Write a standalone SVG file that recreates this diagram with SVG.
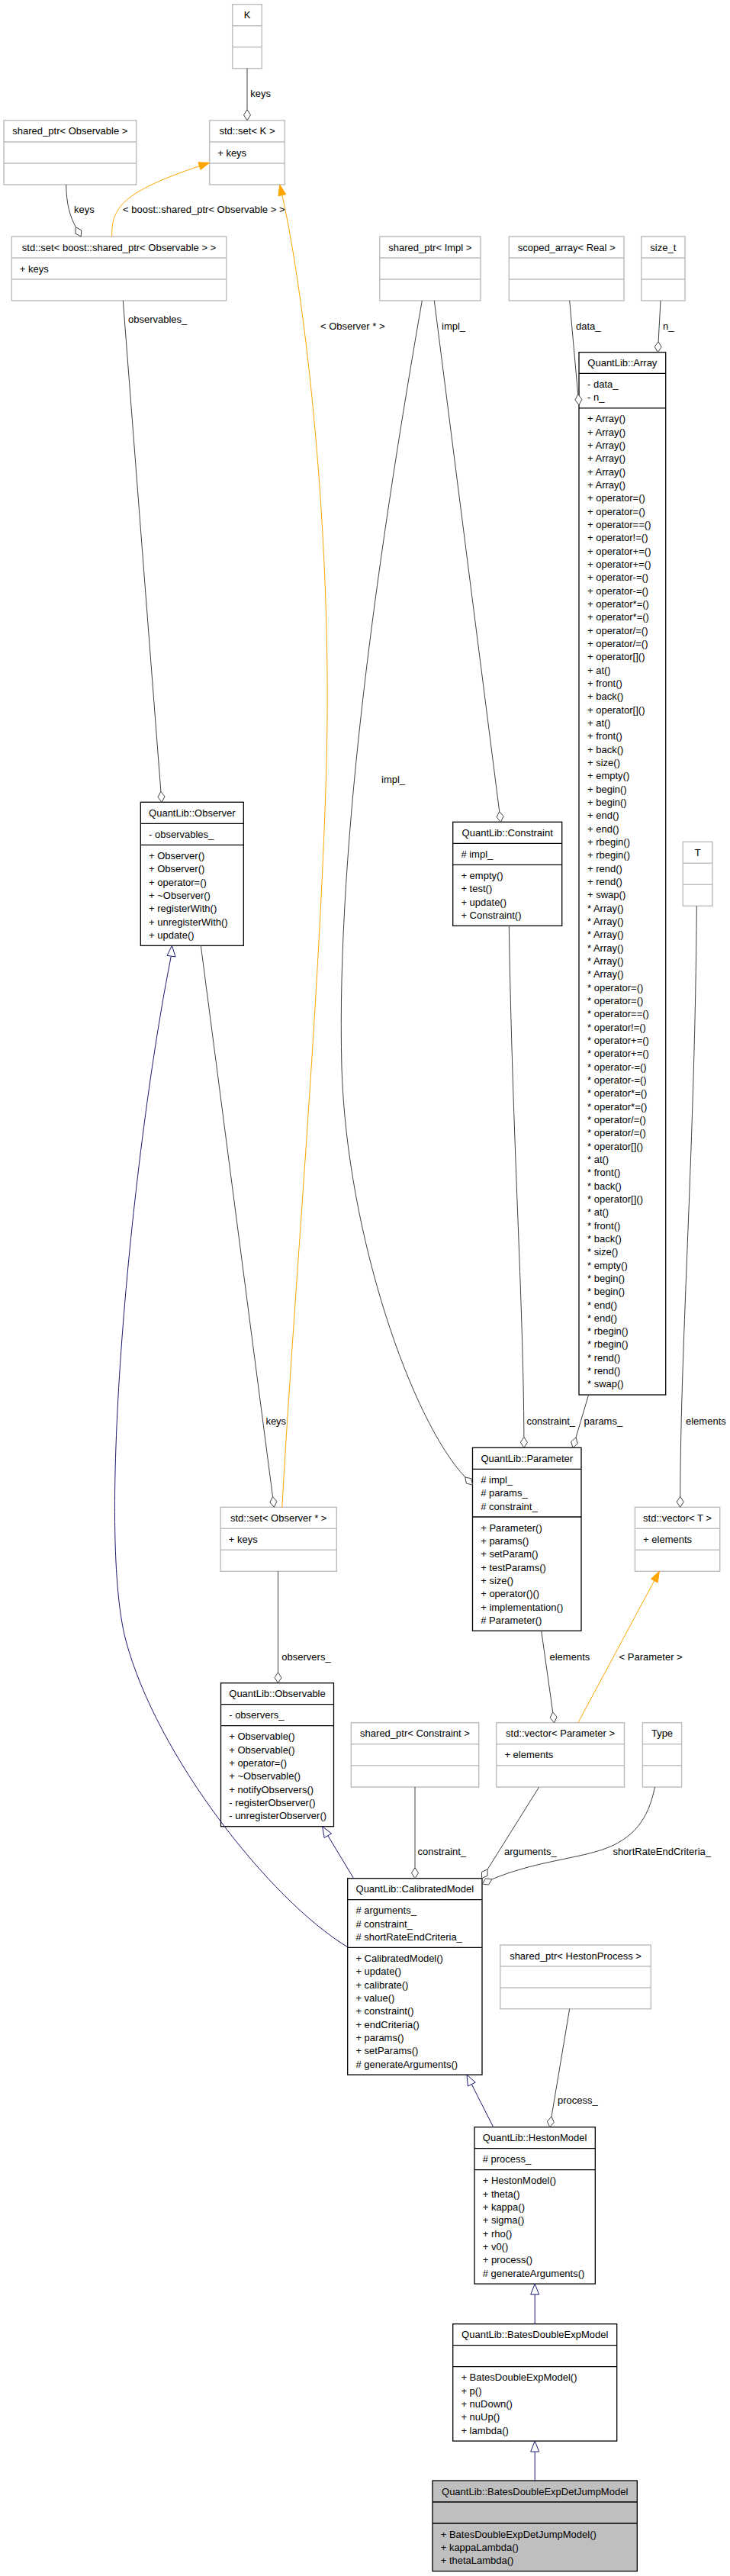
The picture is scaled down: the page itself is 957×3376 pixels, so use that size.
<svg xmlns="http://www.w3.org/2000/svg" width="957" height="3376" viewBox="0 0 957 3376">
<style>
text{font-family:"Liberation Sans",Arial,Helvetica,sans-serif;font-size:13px;fill:#000}
.c{text-anchor:middle}
.bk{fill:#fff;stroke:#000;stroke-width:1.3}
.gr{fill:#fff;stroke:#bfbfbf;stroke-width:1.5}
.sel{fill:#bfbfbf;stroke:#000;stroke-width:1.3}
.dk{fill:none;stroke:#000;stroke-width:1.3}
.dg{fill:none;stroke:#bfbfbf;stroke-width:1.5}
.ag{fill:none;stroke:#404040;stroke-width:1}
.dm{fill:#fff;stroke:#404040;stroke-width:1}
.in{fill:none;stroke:#191970;stroke-width:1}
.tr{fill:#fff;stroke:#191970;stroke-width:1}
.tp{fill:none;stroke:#ffa500;stroke-width:1}
.ah{fill:#ffa500;stroke:#ffa500;stroke-width:1}
</style>
<rect x="0" y="0" width="957" height="3376" fill="#fff"/>

<g id="node-K"><rect class="gr" x="304.7" y="5.7" width="38.6" height="84"/><path class="dg" d="M304.7,33.7H343.3M304.7,61.7H343.3"/><text class="c" x="324" y="24.3">K</text></g>

<g id="node-setK"><rect class="gr" x="274.7" y="157.7" width="98.6" height="84.3"/><path class="dg" d="M274.7,186H373.3M274.7,214H373.3"/><text class="c" x="324" y="176.3">std::set&lt; K &gt;</text><text x="285.2" y="204.6">+ keys</text></g>

<g id="node-sharedptrObservable"><rect class="gr" x="5" y="157.7" width="173.7" height="84.3"/><path class="dg" d="M5,186H178.7M5,214H178.7"/><text class="c" x="91.85" y="176.3">shared_ptr&lt; Observable &gt;</text></g>

<g id="node-setSharedObservable"><rect class="gr" x="15.3" y="310" width="281.4" height="84"/><path class="dg" d="M15.3,338H296.7M15.3,366H296.7"/><text class="c" x="156" y="328.6">std::set&lt; boost::shared_ptr&lt; Observable &gt; &gt;</text><text x="25.8" y="356.6">+ keys</text></g>

<g id="node-sharedptrImpl"><rect class="gr" x="497.7" y="310" width="132.3" height="84"/><path class="dg" d="M497.7,338H630M497.7,366H630"/><text class="c" x="563.85" y="328.6">shared_ptr&lt; Impl &gt;</text></g>

<g id="node-scopedArray"><rect class="gr" x="667.3" y="310" width="150.7" height="84"/><path class="dg" d="M667.3,338H818M667.3,366H818"/><text class="c" x="742.65" y="328.6">scoped_array&lt; Real &gt;</text></g>

<g id="node-sizet"><rect class="gr" x="840.7" y="310" width="57.3" height="84"/><path class="dg" d="M840.7,338H898M840.7,366H898"/><text class="c" x="869.35" y="328.6">size_t</text></g>

<g id="node-Array"><rect class="bk" x="759" y="461.7" width="113.7" height="1366.3"/><path class="dk" d="M759,489.4H872.7M759,534.8H872.7"/><text class="c" x="815.85" y="480.3">QuantLib::Array</text>
<text x="770" y="508"><tspan x="770" dy="0">- data_</tspan><tspan x="770" dy="17.33">- n_</tspan></text>
<text x="770" y="553.4"><tspan x="770" dy="0">+ Array()</tspan><tspan x="770" dy="17.33">+ Array()</tspan><tspan x="770" dy="17.33">+ Array()</tspan><tspan x="770" dy="17.33">+ Array()</tspan><tspan x="770" dy="17.33">+ Array()</tspan><tspan x="770" dy="17.33">+ Array()</tspan><tspan x="770" dy="17.33">+ operator=()</tspan><tspan x="770" dy="17.33">+ operator=()</tspan><tspan x="770" dy="17.33">+ operator==()</tspan><tspan x="770" dy="17.33">+ operator!=()</tspan><tspan x="770" dy="17.33">+ operator+=()</tspan><tspan x="770" dy="17.33">+ operator+=()</tspan><tspan x="770" dy="17.33">+ operator-=()</tspan><tspan x="770" dy="17.33">+ operator-=()</tspan><tspan x="770" dy="17.33">+ operator*=()</tspan><tspan x="770" dy="17.33">+ operator*=()</tspan><tspan x="770" dy="17.33">+ operator/=()</tspan><tspan x="770" dy="17.33">+ operator/=()</tspan><tspan x="770" dy="17.33">+ operator[]()</tspan><tspan x="770" dy="17.33">+ at()</tspan><tspan x="770" dy="17.33">+ front()</tspan><tspan x="770" dy="17.33">+ back()</tspan><tspan x="770" dy="17.33">+ operator[]()</tspan><tspan x="770" dy="17.33">+ at()</tspan><tspan x="770" dy="17.33">+ front()</tspan><tspan x="770" dy="17.33">+ back()</tspan><tspan x="770" dy="17.33">+ size()</tspan><tspan x="770" dy="17.33">+ empty()</tspan><tspan x="770" dy="17.33">+ begin()</tspan><tspan x="770" dy="17.33">+ begin()</tspan><tspan x="770" dy="17.33">+ end()</tspan><tspan x="770" dy="17.33">+ end()</tspan><tspan x="770" dy="17.33">+ rbegin()</tspan><tspan x="770" dy="17.33">+ rbegin()</tspan><tspan x="770" dy="17.33">+ rend()</tspan><tspan x="770" dy="17.33">+ rend()</tspan><tspan x="770" dy="17.33">+ swap()</tspan><tspan x="770" dy="17.33">* Array()</tspan><tspan x="770" dy="17.33">* Array()</tspan><tspan x="770" dy="17.33">* Array()</tspan><tspan x="770" dy="17.33">* Array()</tspan><tspan x="770" dy="17.33">* Array()</tspan><tspan x="770" dy="17.33">* Array()</tspan><tspan x="770" dy="17.33">* operator=()</tspan><tspan x="770" dy="17.33">* operator=()</tspan><tspan x="770" dy="17.33">* operator==()</tspan><tspan x="770" dy="17.33">* operator!=()</tspan><tspan x="770" dy="17.33">* operator+=()</tspan><tspan x="770" dy="17.33">* operator+=()</tspan><tspan x="770" dy="17.33">* operator-=()</tspan><tspan x="770" dy="17.33">* operator-=()</tspan><tspan x="770" dy="17.33">* operator*=()</tspan><tspan x="770" dy="17.33">* operator*=()</tspan><tspan x="770" dy="17.33">* operator/=()</tspan><tspan x="770" dy="17.33">* operator/=()</tspan><tspan x="770" dy="17.33">* operator[]()</tspan><tspan x="770" dy="17.33">* at()</tspan><tspan x="770" dy="17.33">* front()</tspan><tspan x="770" dy="17.33">* back()</tspan><tspan x="770" dy="17.33">* operator[]()</tspan><tspan x="770" dy="17.33">* at()</tspan><tspan x="770" dy="17.33">* front()</tspan><tspan x="770" dy="17.33">* back()</tspan><tspan x="770" dy="17.33">* size()</tspan><tspan x="770" dy="17.33">* empty()</tspan><tspan x="770" dy="17.33">* begin()</tspan><tspan x="770" dy="17.33">* begin()</tspan><tspan x="770" dy="17.33">* end()</tspan><tspan x="770" dy="17.33">* end()</tspan><tspan x="770" dy="17.33">* rbegin()</tspan><tspan x="770" dy="17.33">* rbegin()</tspan><tspan x="770" dy="17.33">* rend()</tspan><tspan x="770" dy="17.33">* rend()</tspan><tspan x="770" dy="17.33">* swap()</tspan></text></g>

<g id="node-Observer"><rect class="bk" x="184.3" y="1051.3" width="135" height="188"/><path class="dk" d="M184.3,1079.3H319.3M184.3,1107.3H319.3"/><text class="c" x="251.8" y="1069.9">QuantLib::Observer</text><text x="195" y="1097.9">- observables_</text>
<text x="195" y="1125.9"><tspan x="195" dy="0">+ Observer()</tspan><tspan x="195" dy="17.33">+ Observer()</tspan><tspan x="195" dy="17.33">+ operator=()</tspan><tspan x="195" dy="17.33">+ ~Observer()</tspan><tspan x="195" dy="17.33">+ registerWith()</tspan><tspan x="195" dy="17.33">+ unregisterWith()</tspan><tspan x="195" dy="17.33">+ update()</tspan></text></g>

<g id="node-Constraint"><rect class="bk" x="593.7" y="1077.3" width="143" height="136"/><path class="dk" d="M593.7,1105.3H736.7M593.7,1133.3H736.7"/><text class="c" x="665.2" y="1095.9">QuantLib::Constraint</text><text x="604.4" y="1123.9"># impl_</text>
<text x="604.4" y="1151.9"><tspan x="604.4" dy="0">+ empty()</tspan><tspan x="604.4" dy="17.33">+ test()</tspan><tspan x="604.4" dy="17.33">+ update()</tspan><tspan x="604.4" dy="17.33">+ Constraint()</tspan></text></g>

<g id="node-T"><rect class="gr" x="895.3" y="1103.3" width="38.7" height="84"/><path class="dg" d="M895.3,1131.3H934M895.3,1159.3H934"/><text class="c" x="914.65" y="1121.9">T</text></g>

<g id="node-setObserverPtr"><rect class="gr" x="289.1" y="1975.3" width="152.2" height="84"/><path class="dg" d="M289.1,2003.3H441.3M289.1,2031.3H441.3"/><text class="c" x="365.2" y="1993.9">std::set&lt; Observer * &gt;</text><text x="299.8" y="2021.9">+ keys</text></g>

<g id="node-Parameter"><rect class="bk" x="619.5" y="1897.3" width="142.5" height="240"/><path class="dk" d="M619.5,1925.3H762M619.5,1988H762"/><text class="c" x="690.75" y="1915.9">QuantLib::Parameter</text>
<text x="630.2" y="1943.9"><tspan x="630.2" dy="0"># impl_</tspan><tspan x="630.2" dy="17.33"># params_</tspan><tspan x="630.2" dy="17.33"># constraint_</tspan></text>
<text x="630.2" y="2006.6"><tspan x="630.2" dy="0">+ Parameter()</tspan><tspan x="630.2" dy="17.33">+ params()</tspan><tspan x="630.2" dy="17.33">+ setParam()</tspan><tspan x="630.2" dy="17.33">+ testParams()</tspan><tspan x="630.2" dy="17.33">+ size()</tspan><tspan x="630.2" dy="17.33">+ operator()()</tspan><tspan x="630.2" dy="17.33">+ implementation()</tspan><tspan x="630.2" dy="17.33"># Parameter()</tspan></text></g>

<g id="node-vectorT"><rect class="gr" x="832.4" y="1975.3" width="111.3" height="84"/><path class="dg" d="M832.4,2003.3H943.7M832.4,2031.3H943.7"/><text class="c" x="888.05" y="1993.9">std::vector&lt; T &gt;</text><text x="843.1" y="2021.9">+ elements</text></g>

<g id="node-Observable"><rect class="bk" x="289.5" y="2205.7" width="148" height="188"/><path class="dk" d="M289.5,2233.7H437.5M289.5,2261.7H437.5"/><text class="c" x="363.5" y="2224.3">QuantLib::Observable</text><text x="300.2" y="2252.3">- observers_</text>
<text x="300.2" y="2280.3"><tspan x="300.2" dy="0">+ Observable()</tspan><tspan x="300.2" dy="17.33">+ Observable()</tspan><tspan x="300.2" dy="17.33">+ operator=()</tspan><tspan x="300.2" dy="17.33">+ ~Observable()</tspan><tspan x="300.2" dy="17.33">+ notifyObservers()</tspan><tspan x="300.2" dy="17.33">- registerObserver()</tspan><tspan x="300.2" dy="17.33">- unregisterObserver()</tspan></text></g>

<g id="node-sharedptrConstraint"><rect class="gr" x="460.3" y="2257.7" width="167.4" height="84.3"/><path class="dg" d="M460.3,2285.7H627.7M460.3,2313.7H627.7"/><text class="c" x="544" y="2276.3">shared_ptr&lt; Constraint &gt;</text></g>

<g id="node-vectorParameter"><rect class="gr" x="650.7" y="2257.7" width="167.8" height="84.3"/><path class="dg" d="M650.7,2285.7H818.5M650.7,2313.7H818.5"/><text class="c" x="734.6" y="2276.3">std::vector&lt; Parameter &gt;</text><text x="661.4" y="2304.3">+ elements</text></g>

<g id="node-Type"><rect class="gr" x="842.4" y="2257.7" width="51.2" height="84.3"/><path class="dg" d="M842.4,2285.7H893.6M842.4,2313.7H893.6"/><text class="c" x="868" y="2276.3">Type</text></g>

<g id="node-CalibratedModel"><rect class="bk" x="455.7" y="2461.7" width="176.3" height="257.4"/><path class="dk" d="M455.7,2489.7H632M455.7,2552.4H632"/><text class="c" x="543.85" y="2480.3">QuantLib::CalibratedModel</text>
<text x="466.4" y="2508.3"><tspan x="466.4" dy="0"># arguments_</tspan><tspan x="466.4" dy="17.33"># constraint_</tspan><tspan x="466.4" dy="17.33"># shortRateEndCriteria_</tspan></text>
<text x="466.4" y="2571"><tspan x="466.4" dy="0">+ CalibratedModel()</tspan><tspan x="466.4" dy="17.33">+ update()</tspan><tspan x="466.4" dy="17.33">+ calibrate()</tspan><tspan x="466.4" dy="17.33">+ value()</tspan><tspan x="466.4" dy="17.33">+ constraint()</tspan><tspan x="466.4" dy="17.33">+ endCriteria()</tspan><tspan x="466.4" dy="17.33">+ params()</tspan><tspan x="466.4" dy="17.33">+ setParams()</tspan><tspan x="466.4" dy="17.33"># generateArguments()</tspan></text></g>

<g id="node-sharedptrHestonProcess"><rect class="gr" x="655.7" y="2549" width="197.6" height="83.7"/><path class="dg" d="M655.7,2577H853.3M655.7,2605H853.3"/><text class="c" x="754.5" y="2567.6">shared_ptr&lt; HestonProcess &gt;</text></g>

<g id="node-HestonModel"><rect class="bk" x="622" y="2787.7" width="158.3" height="205.4"/><path class="dk" d="M622,2815.7H780.3M622,2843.7H780.3"/><text class="c" x="701.15" y="2806.3">QuantLib::HestonModel</text><text x="632.7" y="2834.3"># process_</text>
<text x="632.7" y="2862.3"><tspan x="632.7" dy="0">+ HestonModel()</tspan><tspan x="632.7" dy="17.33">+ theta()</tspan><tspan x="632.7" dy="17.33">+ kappa()</tspan><tspan x="632.7" dy="17.33">+ sigma()</tspan><tspan x="632.7" dy="17.33">+ rho()</tspan><tspan x="632.7" dy="17.33">+ v0()</tspan><tspan x="632.7" dy="17.33">+ process()</tspan><tspan x="632.7" dy="17.33"># generateArguments()</tspan></text></g>

<g id="node-BatesDoubleExpModel"><rect class="bk" x="593.7" y="3045.7" width="215" height="153.4"/><path class="dk" d="M593.7,3073.7H808.7M593.7,3101.7H808.7"/><text class="c" x="701.2" y="3064.3">QuantLib::BatesDoubleExpModel</text>
<text x="604.4" y="3120.3"><tspan x="604.4" dy="0">+ BatesDoubleExpModel()</tspan><tspan x="604.4" dy="17.33">+ p()</tspan><tspan x="604.4" dy="17.33">+ nuDown()</tspan><tspan x="604.4" dy="17.33">+ nuUp()</tspan><tspan x="604.4" dy="17.33">+ lambda()</tspan></text></g>

<g id="node-BatesDoubleExpDetJumpModel"><rect class="sel" x="567" y="3251" width="268.3" height="118.7"/><path class="dk" d="M567,3279H835.3M567,3307H835.3"/><text class="c" x="701.15" y="3269.6">QuantLib::BatesDoubleExpDetJumpModel</text>
<text x="577.7" y="3325.6"><tspan x="577.7" dy="0">+ BatesDoubleExpDetJumpModel()</tspan><tspan x="577.7" dy="17.33">+ kappaLambda()</tspan><tspan x="577.7" dy="17.33">+ thetaLambda()</tspan></text></g>

<g id="connectors">
<path class="ag" d="M324,89.7V143.7"/><polygon class="dm" points="324,157.7 319.5,150.7 324,143.7 328.5,150.7"/>
<text x="328.3" y="127.3">keys</text>
<path class="ag" d="M86.7,242C87,268 92,284 99.4,297.8"/><polygon class="dm" points="106.2,310 98.9,306.1 99.4,297.8 106.7,301.7"/>
<text x="97" y="279.3">keys</text>
<path class="ag" d="M161.3,394L210.9,1037.3"/><polygon class="dm" points="212,1051.3 207,1044.65 210.9,1037.3 216,1043.95"/>
<text x="168" y="423">observables_</text>
<path class="ag" d="M569.3,394L654.7,1063.4"/><polygon class="dm" points="656.5,1077.3 651.1,1070.9 654.7,1063.4 660.1,1069.8"/>
<text x="579" y="431.6">impl_</text>
<path class="ag" d="M553.3,394C500,700 440,1100 448,1400C455,1620 540,1862 609.8,1935.9"/><polygon class="dm" points="619.5,1946 611.4,1944.1 609.8,1935.9 617.9,1937.9"/>
<text x="500" y="1026">impl_</text>
<path class="ag" d="M746.7,394L757.7,516.8"/><polygon class="dm" points="759,530.7 753.9,524.1 757.7,516.8 762.9,523.3"/>
<text x="755" y="431.6">data_</text>
<path class="ag" d="M866,394L863.1,447.7"/><polygon class="dm" points="862.3,461.7 858.2,454.45 863.1,447.7 867.2,454.95"/>
<text x="869" y="431.6">n_</text>
<path class="ag" d="M263.3,1239.3L357.5,1961.4"/><polygon class="dm" points="359.3,1975.3 353.9,1969 357.5,1961.4 362.9,1967.8"/>
<text x="348.4" y="1866.9">keys</text>
<path class="ag" d="M667.3,1213.3C672,1500 686,1700 686.9,1883.3"/><polygon class="dm" points="686.9,1897.3 682.4,1890.3 686.9,1883.3 691.4,1890.3"/>
<text x="690.4" y="1866.9">constraint_</text>
<path class="ag" d="M771.5,1828.3L755,1883.9"/><polygon class="dm" points="751,1897.3 748.7,1889.3 755,1883.9 757.3,1891.9"/>
<text x="765.6" y="1866.9">params_</text>
<path class="ag" d="M913.3,1187.3C911,1500 892.5,1750 891.7,1961.3"/><polygon class="dm" points="891.7,1975.3 887.2,1968.3 891.7,1961.3 896.2,1968.3"/>
<text x="899" y="1866.9">elements</text>
<path class="ag" d="M364.5,2059.3V2191.7"/><polygon class="dm" points="364.5,2205.7 360,2198.7 364.5,2191.7 369,2198.7"/>
<text x="369.3" y="2175.6">observers_</text>
<path class="ag" d="M709.7,2137.3L724.7,2243.8"/><polygon class="dm" points="726.6,2257.7 721.2,2251.4 724.7,2243.8 730.1,2250.2"/>
<text x="720.5" y="2175.6">elements</text>
<path class="ag" d="M544,2342V2447.7"/><polygon class="dm" points="544,2461.7 539.5,2454.7 544,2447.7 548.5,2454.7"/>
<text x="547.5" y="2431.3">constraint_</text>
<path class="ag" d="M706.7,2342L639.1,2449.9"/><polygon class="dm" points="631.6,2461.7 631.5,2453.4 639.1,2449.9 639.1,2458.2"/>
<text x="661" y="2431.3">arguments_</text>
<path class="ag" d="M858.4,2342C850,2385 830,2410 790,2424C750,2437 700,2440 644.9,2462.9"/><polygon class="dm" points="632.3,2469 636.6,2461.9 644.9,2462.9 640.6,2469.95"/>
<text x="803.4" y="2431.3">shortRateEndCriteria_</text>
<path class="ag" d="M746.7,2632.7L723,2773.9"/><polygon class="dm" points="720.7,2787.7 717.4,2780.1 723,2773.9 726.3,2781.5"/>
<text x="731" y="2757.3">process_</text>
<path class="in" d="M463.6,2461.7L429.8,2405.7"/><polygon class="tr" points="422.6,2393.7 434.5,2402.9 425.1,2408.5"/>
<path class="in" d="M455.7,2551.7C353,2489.5 205,2300 165,2150C125,2000 175,1500 224.3,1253.3"/><polygon class="tr" points="225.5,1239.3 230,1254 219,1252.3"/>
<path class="in" d="M646.7,2787.7L618.3,2731.6"/><polygon class="tr" points="612,2719.1 623.2,2729.1 613.4,2734.1"/>
<path class="in" d="M701.2,3045.7V3007.1"/><polygon class="tr" points="701.2,2993.1 706.7,3007.1 695.7,3007.1"/>
<path class="in" d="M701.2,3251V3213.1"/><polygon class="tr" points="701.2,3199.1 706.7,3213.1 695.7,3213.1"/>
<path class="tp" d="M146.7,310C146,272 160,252 261.4,217.6"/><polygon class="ah" points="274.7,213.3 262.9,222.4 259.9,212.8"/>
<text x="161" y="279">&lt; boost::shared_ptr&lt; Observable &gt; &gt;</text>
<path class="tp" d="M369.8,1975.3C385,1700 420,1300 428,1000C436,700 400,390 369.85,255.7"/><polygon class="ah" points="366.7,242.1 374.7,254.6 365,256.8"/>
<text x="420" y="431.6">&lt; Observer * &gt;</text>
<path class="tp" d="M757.8,2257.7L857.8,2071.6"/><polygon class="ah" points="864.4,2059.3 862.2,2074 853.4,2069.2"/>
<text x="811.6" y="2175.6">&lt; Parameter &gt;</text>
</g>
</svg>
